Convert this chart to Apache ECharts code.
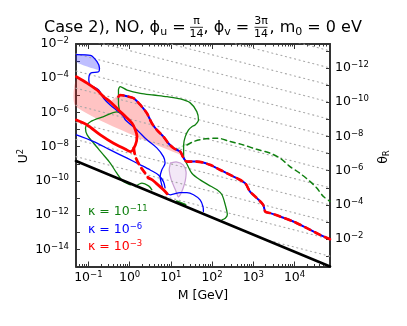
<!DOCTYPE html>
<html>
<head>
<meta charset="utf-8">
<script src="https://cdn.jsdelivr.net/npm/echarts@6/dist/echarts.min.js"></script>
<style>
html, body { margin: 0; padding: 0; background: #fff; }
#chart { width: 407px; height: 326px; }
</style>
</head>
<body>
<div id="chart"></div>
<script>
// every point is [log10(M / GeV), log10(U^2)]
var xRange = [-1.30, 4.86];
var yRange = [-15, -2];
var xMajor = [-1, 0, 1, 2, 3, 4];
var yMajor = [-14, -12, -10, -8, -6, -4, -2];
var thetaLabels = [-12, -10, -8, -6, -4, -2];
var thetaOffset = -15.4;   // log10(theta_R) = -log10(U^2) + thetaOffset on the right edge
var thetaSlope = -0.62;    // slope of the dotted theta_R lines
var thetaLines = [-14, -13, -12, -11, -10, -9, -8, -7, -6, -5, -4, -3, -2, -1, 0];

var blackLine = [[-1.30, -8.84], [4.86, -15.0]];

var pinkBand = [[-1.29, -4.04], [-0.95, -4.45], [-0.64, -5.04], [-0.47, -5.33], [-0.27, -5.01],
    [-0.02, -5.08], [0.10, -5.18], [0.26, -5.56], [0.43, -6.03], [0.55, -6.62], [0.67, -7.02],
    [0.82, -7.43], [0.94, -7.78], [1.06, -8.07], [1.23, -8.31], [1.30, -8.54], [-1.29, -5.68]];
var blueBand = [[-1.29, -2.62], [-0.95, -2.66], [-0.79, -3.03], [-0.73, -3.42], [-0.75, -3.52], [-1.29, -3.05]];

var blueUpper = [[-1.29, -2.62], [-0.95, -2.66], [-0.79, -3.03], [-0.73, -3.42], [-0.75, -3.62],
    [-0.95, -3.71], [-0.99, -4.10], [-0.95, -4.39], [-0.75, -4.69], [-0.63, -5.17], [-0.47, -5.56],
    [-0.27, -5.95], [-0.15, -6.24], [-0.10, -6.44], [0.18, -7.02], [0.42, -7.60], [0.66, -8.07],
    [0.82, -8.58], [0.86, -8.95], [0.78, -9.36], [0.74, -9.75], [0.78, -10.23], [0.82, -10.52],
    [0.99, -10.81], [1.23, -10.68], [1.39, -10.68], [1.55, -10.81], [1.71, -11.11], [1.78, -11.50], [1.79, -11.79]];
var blueLower = [[-1.29, -7.31], [-0.87, -7.70], [-0.47, -8.19], [-0.06, -8.67], [0.26, -9.06],
    [0.50, -9.36], [0.70, -9.65], [0.82, -10.04], [0.86, -10.41]];

var redSolid = [[-1.29, -3.91], [-1.03, -4.29], [-0.79, -4.69], [-0.63, -5.08], [-0.47, -5.37],
    [-0.27, -5.85], [-0.10, -6.24], [0.06, -6.63], [0.14, -7.02], [0.18, -7.41], [0.14, -7.90],
    [0.02, -8.29], [-0.10, -8.15], [-0.39, -7.80], [-0.71, -7.31], [-1.03, -6.73], [-1.29, -6.44]];
var redDashed = [[0.10, -8.07], [0.14, -8.58], [0.26, -9.16], [0.38, -9.55], [0.45, -9.82]];
var redKnot = [[0.45, -9.82], [0.55, -9.94], [0.66, -10.17], [0.82, -10.52], [0.91, -10.75]];

var mixedDashed = [[-0.27, -5.08], [-0.23, -4.98], [-0.02, -5.08], [0.10, -5.17], [0.26, -5.56],
    [0.42, -6.05], [0.54, -6.63], [0.66, -7.02], [0.82, -7.41], [0.94, -7.80], [1.07, -8.09],
    [1.23, -8.29], [1.29, -8.58], [1.39, -8.87], [1.63, -8.87], [1.95, -9.06], [2.20, -9.36],
    [2.44, -9.65], [2.60, -9.84], [2.80, -10.13], [2.92, -10.62], [3.08, -10.99], [3.24, -11.40],
    [3.29, -11.79], [3.41, -11.88], [3.65, -12.08], [3.97, -12.37], [4.30, -12.76], [4.62, -13.15], [4.86, -13.41]];

var greenSolid = [[0.02, -10.23], [-0.15, -10.04], [-0.31, -9.55], [-0.47, -8.96], [-0.67, -8.38],
    [-0.87, -7.80], [-1.03, -7.31], [-1.07, -6.92], [-0.95, -6.54], [-0.63, -6.24], [-0.31, -5.97],
    [-0.23, -6.03], [-0.27, -5.46], [-0.27, -4.69], [-0.23, -4.49], [-0.06, -4.69], [0.26, -4.88],
    [0.58, -4.98], [0.91, -5.08], [1.23, -5.21], [1.47, -5.44], [1.63, -5.95], [1.67, -6.44],
    [1.59, -6.73], [1.51, -6.83], [1.43, -7.02], [1.35, -7.41], [1.31, -7.90], [1.31, -8.58],
    [1.39, -9.01], [1.51, -9.55], [1.71, -9.94], [1.91, -10.23], [2.12, -10.52], [2.24, -10.81],
    [2.32, -11.40], [2.37, -11.98], [2.32, -12.18], [2.24, -12.27]];
var greenBump = [[0.14, -10.33], [0.30, -10.13], [0.46, -10.29], [0.54, -10.52]];
var greenStub = [[1.15, -11.21], [1.35, -11.40]];
var greenDashed = [[1.39, -7.90], [1.55, -7.70], [1.79, -7.56], [2.12, -7.50], [2.44, -7.70],
    [2.76, -7.90], [3.08, -8.15], [3.41, -8.38], [3.65, -8.67], [3.89, -9.16], [4.13, -9.55],
    [4.38, -10.04], [4.54, -10.42], [4.70, -10.91], [4.86, -11.19]];
var greenFaint = [[1.13, -8.19], [1.42, -7.78]];

var lavenderLoop = [[0.99, -8.95], [1.13, -8.89], [1.30, -9.06], [1.37, -9.47], [1.35, -10.00],
    [1.30, -10.41], [1.23, -10.81], [1.18, -10.93], [1.11, -10.52], [1.01, -9.94], [0.96, -9.36], [0.99, -8.95]];

var legendItems = [
    {text: '−11', color: '#108010'},
    {text: '−6', color: '#0000ff'},
    {text: '−3', color: '#ff0000'}
];

var FONT = 'DejaVu Sans';

function minorTicks(lo, hi) {
    var out = [];
    for (var e = Math.floor(lo) - 1; e <= Math.ceil(hi); e++) {
        for (var k = 2; k <= 9; k++) {
            var v = e + Math.log10(k);
            if (v > lo + 1e-6 && v < hi - 1e-6) out.push(v);
        }
    }
    return out;
}

function range(a, b) {
    var out = [];
    for (var i = a; i <= b; i++) out.push(i);
    return out;
}

function powLabel(e) {
    var s = e < 0 ? '−' + (-e) : '' + e;
    return '{b|10}{s|' + s + '}';
}

var powRich = {
    b: {fontFamily: FONT, fontSize: 12.5, lineHeight: 15, color: '#000'},
    s: {fontFamily: FONT, fontSize: 8.5, lineHeight: 7, verticalAlign: 'top', color: '#000'}
};

function curve(points, color, width, type, z, smooth) {
    return {
        type: 'line', data: points, xAxisIndex: 0, yAxisIndex: 0,
        symbol: 'none', smooth: smooth === undefined ? 0.3 : smooth, clip: true, silent: true,
        lineStyle: {color: color, width: width, type: type || 'solid', cap: 'round', join: 'round'},
        z: z || 3
    };
}

function polygon(points, fill, stroke, z) {
    return {
        type: 'custom', xAxisIndex: 0, yAxisIndex: 0, data: [[0, 0]], silent: true, z: z || 1,
        renderItem: function (params, api) {
            var pts = points.map(function (p) { return api.coord(p); });
            return {
                type: 'polygon', shape: {points: pts, smooth: 0.25},
                style: {fill: fill, stroke: stroke || null, lineWidth: 1.2}
            };
        }
    };
}

function thetaLine(t) {
    var c = blackLine[0][0] + blackLine[0][1];
    var xR = xRange[1];
    var yR = -t + thetaOffset;
    var xCross = (c - yR + thetaSlope * xR) / (1 + thetaSlope);
    var x0 = Math.max(xRange[0], xCross);
    if (x0 >= xR) return null;
    return [[x0, yR + thetaSlope * (x0 - xR)], [xR, yR]];
}

var series = [];
series.push(polygon(pinkBand, 'rgba(255,40,40,0.28)', null, 1));
series.push(polygon(blueBand, 'rgba(40,40,255,0.3)', null, 1));
series.push(polygon(lavenderLoop, 'rgba(200,150,220,0.22)', 'rgba(160,90,180,0.55)', 2));

thetaLines.forEach(function (t) {
    var seg = thetaLine(t);
    if (seg) series.push(curve(seg, '#a8a8a8', 1.1, [1.1, 3.6], 2, false));
});

series.push(curve(greenFaint, 'rgba(60,160,60,0.35)', 1.5, [4, 3], 3));
series.push(curve(greenSolid, '#108010', 1.3, 'solid', 3));
series.push(curve(greenBump, '#108010', 1.3, 'solid', 3));
series.push(curve(greenStub, '#108010', 2.5, 'solid', 3));
series.push(curve(greenDashed, '#108010', 1.5, [5, 4], 3));
series.push(curve(blueUpper, '#0000ff', 1.3, 'solid', 4));
series.push(curve(blueLower, '#0000ff', 1.3, 'solid', 4));
series.push(curve(redSolid, '#ff0000', 2.8, 'solid', 5));
series.push(curve(redDashed, '#ff0000', 2.8, [6, 5], 5));
series.push(curve(redKnot, '#ff0000', 2.8, 'solid', 5));
series.push(curve(mixedDashed, '#0000ff', 2, 'solid', 5));
series.push(curve(mixedDashed, '#ff0000', 2.6, [6, 5], 6));
series.push(curve(blackLine, '#000000', 2.6, 'solid', 7, false));

var axisLine = {show: true, onZero: false, lineStyle: {color: '#333', width: 2}};

function bareAxis(pos, ticks, len, withLine) {
    return {
        type: 'value', position: pos, min: xRange[0], max: xRange[1],
        axisLine: withLine ? axisLine : {show: false},
        axisTick: {show: true, inside: true, length: len, customValues: ticks, lineStyle: {color: '#333', width: 1}},
        axisLabel: {show: false}, splitLine: {show: false}
    };
}

var xMinor = minorTicks(xRange[0], xRange[1]);
var xAxes = [
    {
        type: 'value', position: 'bottom', min: xRange[0], max: xRange[1],
        axisLine: axisLine,
        axisTick: {show: true, inside: true, length: 5, customValues: xMajor, lineStyle: {color: '#333', width: 1}},
        axisLabel: {customValues: xMajor, margin: 4, formatter: function (v) { return powLabel(Math.round(v)); }, rich: powRich},
        splitLine: {show: false}
    },
    bareAxis('bottom', xMinor, 2.5, false),
    bareAxis('top', xMajor, 5, true),
    bareAxis('top', xMinor, 2.5, false)
];

var yAxes = [
    {
        type: 'value', position: 'left', min: yRange[0], max: yRange[1],
        axisLine: axisLine,
        axisTick: {show: true, inside: true, length: 4, customValues: range(-14, -3), lineStyle: {color: '#333', width: 1}},
        axisLabel: {customValues: yMajor, margin: 7, formatter: function (v) { return powLabel(Math.round(v)); }, rich: powRich},
        splitLine: {show: false}
    },
    {
        type: 'value', position: 'right', inverse: true,
        min: -yRange[1] + thetaOffset, max: -yRange[0] + thetaOffset,
        axisLine: axisLine,
        axisTick: {show: true, inside: true, length: 4, customValues: range(-13, -1), lineStyle: {color: '#333', width: 1}},
        axisLabel: {customValues: thetaLabels, margin: 5, formatter: function (v) { return powLabel(Math.round(v)); }, rich: powRich},
        splitLine: {show: false}
    }
];

function txt(x, y, text, rich, opts) {
    opts = opts || {};
    return {
        type: 'text', x: x, y: y, rotation: opts.rotation || 0, silent: true,
        style: {
            text: text, rich: rich, fill: opts.color || '#000',
            font: (opts.size || 16) + 'px "' + FONT + '"',
            align: opts.align || 'left', verticalAlign: 'middle'
        }
    };
}

var titleRich = {
    m: {fontFamily: FONT, fontSize: 16, lineHeight: 20},
    u: {fontFamily: FONT, fontSize: 11, lineHeight: 11, verticalAlign: 'bottom'}
};

function fraction(cx, num, den) {
    return [
        txt(cx, 21.5, num, null, {size: 11, align: 'center'}),
        {type: 'line', silent: true, shape: {x1: cx - 6.5, y1: 27.3, x2: cx + 6.5, y2: 27.3}, style: {stroke: '#000', lineWidth: 0.8}},
        txt(cx, 34.2, den, null, {size: 11, align: 'center'})
    ];
}

var graphics = [
    txt(44, 28, '{m|Case 2), NO, ϕ}{u|u}{m| = }', titleRich),
    txt(203.5, 28, '{m|, ϕ}{u|v}{m| = }', titleRich),
    txt(269.5, 28, '{m|, m}{u|0}{m| = 0 eV}', titleRich)
].concat(fraction(196.5, 'π', '14'), fraction(261, '3π', '14'));

var axisNameRich = {
    m: {fontFamily: FONT, fontSize: 12.5, lineHeight: 15},
    p: {fontFamily: FONT, fontSize: 8.5, lineHeight: 7, verticalAlign: 'top'},
    d: {fontFamily: FONT, fontSize: 8.5, lineHeight: 9, verticalAlign: 'bottom'}
};
graphics.push(txt(24, 156, '{m|U}{p|2}', axisNameRich, {rotation: Math.PI / 2, align: 'center'}));
graphics.push(txt(203, 296, '{m|M [GeV]}', axisNameRich, {align: 'center'}));
graphics.push(txt(384, 157, '{m|θ}{d|R}', axisNameRich, {rotation: Math.PI / 2, align: 'center'}));

var legendRich = function (color) {
    return {
        k: {fontFamily: FONT, fontSize: 12.5, lineHeight: 15, color: color},
        s: {fontFamily: FONT, fontSize: 8.5, lineHeight: 7, verticalAlign: 'top', color: color}
    };
};
legendItems.forEach(function (item, i) {
    graphics.push(txt(88, 212 + i * 17.5, '{k|κ = 10}{s|' + item.text + '}', legendRich(item.color), {color: item.color, size: 12.5}));
});

var chart = echarts.init(document.getElementById('chart'), null, {renderer: 'canvas'});
chart.setOption({
    animation: false,
    backgroundColor: '#fff',
    textStyle: {fontFamily: FONT},
    grid: {left: 76, right: 77, top: 44, bottom: 59.5, containLabel: false},
    xAxis: xAxes,
    yAxis: yAxes,
    series: series,
    graphic: graphics
});
</script>
</body>
</html>
